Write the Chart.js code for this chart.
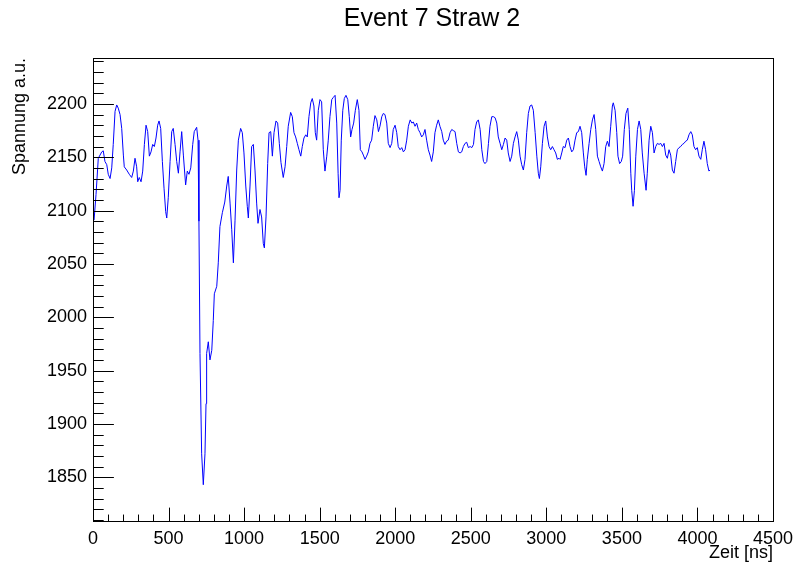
<!DOCTYPE html>
<html>
<head>
<meta charset="utf-8">
<script src="https://cdn.jsdelivr.net/npm/chart.js@4/dist/chart.umd.min.js"></script>
<style>
  html, body { margin: 0; padding: 0; background: #fff; }
  #c { display: block; }
</style>
</head>
<body>
<canvas id="c" width="794" height="567"></canvas>
<script>
// Waveform samples: time in ns and voltage in arbitrary units
const timeNs = [
  7, 20, 35, 58, 68, 79, 91, 101, 113, 124, 134, 146, 157, 167, 179, 190, 201, 207, 223, 240,
  256, 267, 278, 289, 296, 306, 318, 329, 340, 351, 362, 373, 384, 395, 406, 417, 428, 437, 448, 459,
  470, 481, 488, 498, 510, 521, 531, 543, 554, 565, 576, 587, 598, 613, 624, 635, 647, 660, 670, 686,
  695, 701, 708, 719, 730, 741, 748, 752, 763, 774, 786, 796, 803, 819, 829, 840, 856, 872, 885, 895,
  907, 918, 929, 940, 951, 962, 977, 988, 999, 1011, 1021, 1028, 1039, 1050, 1061, 1072, 1083, 1092, 1105, 1116,
  1127, 1134, 1145, 1156, 1165, 1176, 1187, 1198, 1211, 1222, 1233, 1244, 1259, 1271, 1282, 1292, 1308, 1319, 1330, 1341,
  1352, 1363, 1375, 1385, 1396, 1408, 1418, 1429, 1441, 1451, 1462, 1471, 1480, 1491, 1502, 1513, 1524, 1535, 1547, 1557,
  1568, 1580, 1590, 1602, 1613, 1622, 1628, 1635, 1643, 1653, 1663, 1674, 1686, 1696, 1705, 1714, 1725, 1736, 1749, 1760,
  1769, 1780, 1789, 1800, 1811, 1822, 1833, 1844, 1855, 1866, 1878, 1889, 1899, 1911, 1921, 1932, 1944, 1954, 1966, 1977,
  1987, 1999, 2010, 2020, 2032, 2043, 2054, 2065, 2076, 2087, 2099, 2110, 2120, 2131, 2142, 2153, 2164, 2175, 2186, 2197,
  2208, 2219, 2230, 2241, 2252, 2263, 2274, 2285, 2296, 2308, 2318, 2329, 2340, 2351, 2363, 2374, 2384, 2396, 2407, 2418,
  2429, 2440, 2451, 2462, 2473, 2484, 2496, 2507, 2518, 2528, 2539, 2550, 2562, 2573, 2584, 2594, 2606, 2617, 2627, 2639,
  2650, 2661, 2672, 2682, 2694, 2705, 2716, 2727, 2738, 2748, 2760, 2771, 2782, 2793, 2804, 2815, 2826, 2837, 2848, 2859,
  2870, 2881, 2892, 2903, 2914, 2926, 2937, 2947, 2954, 2963, 2974, 2985, 2996, 3007, 3018, 3029, 3040, 3051, 3062, 3073,
  3084, 3091, 3102, 3112, 3124, 3135, 3146, 3157, 3168, 3179, 3190, 3201, 3212, 3223, 3234, 3245, 3254, 3263, 3271, 3283,
  3294, 3305, 3316, 3327, 3338, 3349, 3360, 3371, 3382, 3393, 3404, 3415, 3426, 3437, 3443, 3455, 3466, 3474, 3485, 3496,
  3505, 3516, 3527, 3539, 3549, 3559, 3565, 3574, 3583, 3592, 3603, 3614, 3625, 3635, 3647, 3660, 3668, 3680, 3691, 3702,
  3713, 3724, 3735, 3746, 3757, 3768, 3779, 3790, 3801, 3812, 3823, 3834, 3845, 3856, 3867, 3878, 3889, 3900, 3911, 3922,
  3933, 3944, 3956, 3966, 3977, 3988, 3999, 4010, 4022, 4032, 4043, 4054, 4065, 4076, 4083
];
const voltage = [
  2091, 2115, 2149, 2155, 2156, 2146, 2143, 2134, 2130, 2140, 2162, 2193, 2199, 2196, 2190, 2177, 2152, 2141, 2138, 2134,
  2131, 2137, 2149, 2141, 2127, 2131, 2127, 2137, 2162, 2180, 2174, 2151, 2155, 2162, 2160, 2168, 2180, 2184, 2177, 2146,
  2121, 2099, 2093, 2112, 2146, 2174, 2177, 2162, 2146, 2135, 2155, 2174, 2152, 2124, 2137, 2134, 2140, 2162, 2174, 2178,
  2166, 2090, 1966, 1872, 1843, 1872, 1919, 1966, 1977, 1960, 1969, 1997, 2022, 2029, 2051, 2085, 2098, 2108, 2123, 2132,
  2107, 2082, 2051, 2091, 2138, 2166, 2177, 2173, 2154, 2123, 2104, 2093, 2123, 2160, 2162, 2138, 2107, 2088, 2101, 2094,
  2069, 2065, 2094, 2144, 2173, 2174, 2151, 2173, 2184, 2182, 2163, 2145, 2131, 2141, 2160, 2179, 2192, 2188, 2173, 2169,
  2163, 2157, 2151, 2160, 2168, 2171, 2169, 2188, 2201, 2205, 2198, 2173, 2166, 2194, 2204, 2202, 2157, 2137, 2151, 2166,
  2188, 2204, 2206, 2208, 2182, 2135, 2112, 2119, 2166, 2194, 2205, 2208, 2204, 2188, 2169, 2176, 2182, 2194, 2204, 2194,
  2157, 2155, 2152, 2148, 2151, 2155, 2163, 2166, 2179, 2189, 2185, 2174, 2179, 2188, 2191, 2190, 2182, 2163, 2159, 2163,
  2176, 2180, 2173, 2160, 2157, 2159, 2155, 2157, 2166, 2179, 2185, 2182, 2183, 2179, 2182, 2176, 2173, 2169, 2171, 2176,
  2166, 2157, 2152, 2146, 2155, 2173, 2180, 2185, 2179, 2174, 2166, 2162, 2165, 2166, 2173, 2176, 2175, 2174, 2163, 2155,
  2154, 2155, 2160, 2163, 2164, 2159, 2160, 2159, 2162, 2176, 2183, 2185, 2176, 2157, 2146, 2144, 2146, 2163, 2179, 2188,
  2188, 2187, 2182, 2169, 2163, 2157, 2162, 2168, 2166, 2154, 2146, 2151, 2163, 2169, 2174, 2166, 2151, 2143, 2138, 2148,
  2173, 2191, 2198, 2199, 2194, 2173, 2151, 2135, 2130, 2141, 2163, 2179, 2184, 2169, 2160, 2157, 2160, 2157, 2154, 2148,
  2149, 2148, 2154, 2160, 2159, 2166, 2168, 2160, 2155, 2157, 2166, 2173, 2174, 2179, 2173, 2154, 2141, 2133, 2148, 2163,
  2176, 2185, 2190, 2176, 2151, 2146, 2141, 2137, 2144, 2160, 2165, 2160, 2179, 2198, 2201, 2194, 2173, 2151, 2144, 2146,
  2151, 2176, 2191, 2196, 2176, 2135, 2119, 2104, 2119, 2151, 2176, 2184, 2176, 2154, 2135, 2119, 2135, 2166, 2179, 2173,
  2154, 2160, 2163, 2162, 2163, 2160, 2163, 2152, 2149, 2157, 2152, 2138, 2135, 2146, 2157, 2159, 2160, 2162, 2163, 2165,
  2166, 2171, 2174, 2171, 2160, 2157, 2159, 2151, 2148, 2157, 2165, 2157, 2144, 2137, 2138
];

// Axis ranges and labelled tick values
const xRange = [0, 4500];
const yRange = [1809, 2243];
const xTicks = [0, 500, 1000, 1500, 2000, 2500, 3000, 3500, 4000, 4500];
const yTicks = [1850, 1900, 1950, 2000, 2050, 2100, 2150, 2200];
const xMinorStep = 100;
const yMinorStep = 10;

const FONT = "'Liberation Sans', Arial, Helvetica, sans-serif";

// Frame, inward tick marks and the title, drawn in the ROOT canvas style
const frameAndTicks = {
  id: 'frameAndTicks',
  afterDraw(chart) {
    const { ctx, chartArea: a, scales: { x, y } } = chart;
    ctx.save();
    ctx.strokeStyle = '#000';
    ctx.lineWidth = 1;
    const L = Math.round(a.left) + 0.5, R = Math.round(a.right) + 0.5;
    const T = Math.round(a.top) + 0.5, B = Math.round(a.bottom) + 0.5;
    ctx.strokeRect(L, T, R - L, B - T);

    const xMajorLen = 0.03 * (B - T);
    const yMajorLen = 0.03 * (R - L);
    ctx.beginPath();
    for (let v = Math.ceil(x.min / xMinorStep) * xMinorStep; v <= x.max + 1e-6; v += xMinorStep) {
      const px = Math.round(x.getPixelForValue(v)) + 0.5;
      const len = (xTicks.includes(v)) ? xMajorLen : xMajorLen / 2;
      ctx.moveTo(px, B);
      ctx.lineTo(px, B - len);
    }
    for (let v = Math.ceil(y.min / yMinorStep) * yMinorStep; v <= y.max + 1e-6; v += yMinorStep) {
      const py = Math.round(y.getPixelForValue(v)) + 0.5;
      const len = (yTicks.includes(v)) ? yMajorLen : yMajorLen / 2;
      ctx.moveTo(L, py);
      ctx.lineTo(L + len, py);
    }
    ctx.stroke();

    ctx.fillStyle = '#000';
    ctx.font = '25px ' + FONT;
    ctx.textAlign = 'center';
    ctx.textBaseline = 'middle';
    ctx.fillText('Event 7 Straw 2', 432, 19);
    ctx.restore();
  }
};

new Chart(document.getElementById('c'), {
  type: 'line',
  data: {
    datasets: [{
      data: timeNs.map((t, i) => ({ x: t, y: voltage[i] })),
      borderColor: '#0000ff',
      borderWidth: 1,
      pointRadius: 0,
      tension: 0,
      fill: false
    }]
  },
  options: {
    responsive: false,
    animation: false,
    devicePixelRatio: 1,
    layout: { padding: { left: 0, right: 21, top: 58, bottom: 0 } },
    plugins: {
      legend: { display: false },
      title: { display: false },
      tooltip: { enabled: false }
    },
    scales: {
      x: {
        type: 'linear',
        min: xRange[0],
        max: xRange[1],
        grid: { display: false, drawTicks: false },
        border: { display: false },
        afterBuildTicks(scale) { scale.ticks = xTicks.map(v => ({ value: v })); },
        afterFit(scale) {
          scale.height = 46;
          scale.paddingLeft = 0;
          scale.paddingRight = 0;
        },
        ticks: {
          autoSkip: false,
          maxRotation: 0,
          padding: 7,
          color: '#000',
          font: { family: FONT, size: 18 },
          callback: v => String(v)
        },
        title: {
          display: true,
          text: 'Zeit [ns]',
          align: 'end',
          color: '#000',
          font: { family: FONT, size: 18 },
          padding: { top: 0, bottom: 3 }
        }
      },
      y: {
        type: 'linear',
        min: yRange[0],
        max: yRange[1],
        grid: { display: false, drawTicks: false },
        border: { display: false },
        afterBuildTicks(scale) { scale.ticks = yTicks.map(v => ({ value: v })); },
        afterFit(scale) {
          scale.width = 93;
          scale.paddingTop = 0;
          scale.paddingBottom = 0;
        },
        ticks: {
          autoSkip: false,
          padding: 6,
          color: '#000',
          font: { family: FONT, size: 18 },
          callback: v => String(v)
        },
        title: {
          display: true,
          text: 'Spannung a.u.',
          align: 'end',
          color: '#000',
          font: { family: FONT, size: 18 },
          padding: { top: 9, bottom: 0 }
        }
      }
    }
  },
  plugins: [frameAndTicks]
});
</script>
</body>
</html>
